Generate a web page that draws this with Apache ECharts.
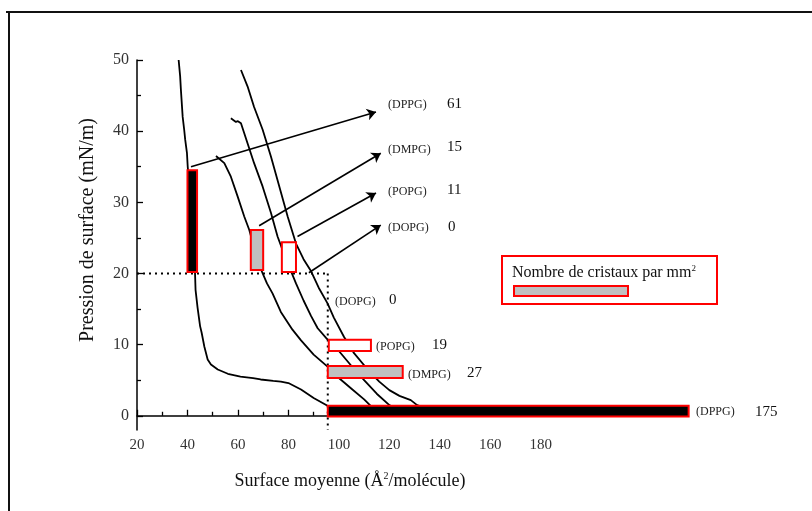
<!DOCTYPE html>
<html><head><meta charset="utf-8">
<script src="https://cdn.jsdelivr.net/npm/echarts@6/dist/echarts.min.js"></script>
<style>html,body{margin:0;padding:0;background:#fff}#c{width:812px;height:511px}</style>
</head><body><div id="c"></div>
<script>
// ---- data ----
const xTickLabels = [20, 40, 60, 80, 100, 120, 140, 160, 180];
const xMinorTicks = [30, 50, 70, 90, 110, 130, 150, 170, 190];
const yTickLabels = [0, 10, 20, 30, 40, 50];
const yMinorTicks = [5, 15, 25, 35, 45];
const xTitle = 'Surface moyenne (Å{s|2}/molécule)';
const yTitle = 'Pression de surface (mN/m)';
const legendTitle = 'Nombre de cristaux par mm{s|2}';

const curveDPPG = [[36.5,50],[37.1,47.7],[37.4,45.8],[38.1,42],[38.7,40.2],[39.1,38.8],[39.8,36.9],[40.1,35],[41,31],[42,26],[42.8,21],[43,20],[43.2,17.7],[44,15.2],[45,12.6],[45.6,11.7],[46.7,9.7],[48,7.9],[49.3,7.2],[52,6.5],[56,5.9],[61,5.5],[66,5.3],[69,5.1],[74,4.9],[77,4.8],[80,4.6],[85,3.7],[90,2.5],[95.5,1.4],[97,1.1]];
const curveDMPG = [[51.3,36.5],[54.6,35.5],[57.2,33.6],[59.9,30.8],[62.5,28],[64.5,26.1],[66.5,23.5],[68,21.6],[69.8,20],[71.5,18.6],[73.7,17.2],[77,14.6],[81.6,12.1],[85,10.6],[90,8.6],[95.5,6.9],[100,5.3],[105,3.8],[110,2.3],[112.6,1.4],[114,1.1]];
const curvePOPG = [[57.2,41.8],[58,41.6],[58.6,41.8],[59.2,41.3],[60,41.4],[61.2,41.1],[62.5,39.7],[63.8,38.3],[66.4,35.5],[69.8,32.2],[73.1,28.5],[75.7,25.2],[78,23],[80,21.2],[83,18.6],[86,16.2],[89,14],[91.6,12.3],[95,10.9],[100,9.1],[105,7],[110,5],[115,3.1],[120,1.5],[122,1.1]];
const curveDOPG = [[61.2,48.6],[63.8,46.3],[66.4,43.4],[69.8,40.2],[73.1,36.4],[75.7,33.1],[79.7,28],[83,24.2],[86,22],[89,20.3],[92,18],[95.5,15.8],[98,13.8],[102,11.1],[106,8.8],[111.4,6.5],[116,4.8],[120,3.6],[124,2.8],[128.5,2.2],[131,1.5],[134,1.1]];

const refLineH = [[20,20],[95.6,20]];
const refLineV = [[95.6,20],[95.6,-2]];

// vertical bars (at 20 mN/m onward)
const vLipids = ['DPPG', 'DMPG', 'POPG'];
const vCounts = [61, 15, 11];
const vX = [[40, 43.8], [65.1, 70], [77.4, 83]];
const vY = [[20.2, 34.5], [20.5, 26.1], [20.2, 24.4]];

// horizontal bars (near 0 mN/m)
const hLipids = ['DPPG', 'DMPG', 'POPG'];
const hCounts = [175, 27, 19];
const hX = [[95.6, 238.6], [95.6, 125.3], [96, 112.7]];
const hY = [[-0.1, 1.4], [5.3, 7], [9.1, 10.7]];

// arrows from bars to the count labels
const arrowFrom = [[41.4, 35], [68.4, 26.7], [83.6, 25.2], [88.1, 20.1]];
const arrowTo = [[114.7, 42.7], [116.6, 36.9], [114.7, 31.3], [116.6, 26.8]];
const arrowLipids = ['DPPG', 'DMPG', 'POPG', 'DOPG'];
const arrowCounts = [61, 15, 11, 0];

const fillOf = {DPPG: '#000000', DMPG: '#c0c0c0', POPG: '#ffffff', DOPG: '#ffffff'};
const FONT = 'Liberation Serif';

const chart = echarts.init(document.getElementById('c'));

function rectSeries(xs, ys, lipids) {
  return {
    type: 'custom',
    clip: false,
    z: 5,
    data: xs.map((x, i) => [x[0], x[1], ys[i][0], ys[i][1], i]),
    renderItem: function (params, api) {
      const p1 = api.coord([api.value(0), api.value(3)]);
      const p2 = api.coord([api.value(1), api.value(2)]);
      return {
        type: 'rect',
        shape: {x: p1[0], y: p1[1], width: p2[0] - p1[0], height: p2[1] - p1[1]},
        style: {fill: fillOf[lipids[api.value(4)]], stroke: '#ff0000', lineWidth: 2}
      };
    }
  };
}

const lineStyleCurve = {color: '#000', width: 1.8};
function curve(d) {
  return {type: 'line', data: d, showSymbol: false, symbol: 'none', lineStyle: lineStyleCurve, z: 3, clip: false, animation: false};
}

const textStyleSmall = {fontFamily: FONT, fontSize: 12, fill: '#222'};
const textStyleNum = {fontFamily: FONT, fontSize: 15, fill: '#111'};
const labelPos = [
  [388, 105, 447, 104], [388, 150, 447, 147], [388, 192, 447, 190], [388, 228, 448, 227]
];
const graphics = [];
labelPos.forEach((p, i) => {
  graphics.push({type: 'text', x: p[0], y: p[1], style: Object.assign({text: '(' + arrowLipids[i] + ')', verticalAlign: 'middle'}, textStyleSmall), z: 20});
  graphics.push({type: 'text', x: p[2], y: p[3], style: Object.assign({text: String(arrowCounts[i]), verticalAlign: 'middle'}, textStyleNum), z: 20});
});
const lowLabels = [['DOPG', 0, 335, 302, 389, 300], ['POPG', hCounts[2], 376, 347, 432, 345], ['DMPG', hCounts[1], 408, 375, 467, 373], ['DPPG', hCounts[0], 696, 412, 755, 412]];
lowLabels.forEach(l => {
  graphics.push({type: 'text', x: l[2], y: l[3], style: Object.assign({text: '(' + l[0] + ')', verticalAlign: 'middle'}, textStyleSmall), z: 20});
  graphics.push({type: 'text', x: l[4], y: l[5], style: Object.assign({text: String(l[1]), verticalAlign: 'middle'}, textStyleNum), z: 20});
});
// legend box
graphics.push({type: 'rect', shape: {x: 502, y: 256, width: 215, height: 48}, style: {fill: '#fff', stroke: '#ff0000', lineWidth: 2}, z: 10});
graphics.push({type: 'rect', shape: {x: 514, y: 286, width: 114, height: 10}, style: {fill: '#c0c0c0', stroke: '#ff0000', lineWidth: 2}, z: 11});
graphics.push({type: 'text', x: 512, y: 273, style: {text: legendTitle, rich: {s: {fontSize: 9, verticalAlign: 'top', padding: [0,0,9,0], fontFamily: FONT}}, fontFamily: FONT, fontSize: 16, fill: '#111', verticalAlign: 'middle'}, z: 12});
// axis titles
graphics.push({type: 'text', x: 350, y: 481, style: {text: xTitle, rich: {s: {fontFamily: FONT, fontSize: 10, verticalAlign: 'top', padding: [0,0,10,0]}}, fontFamily: FONT, fontSize: 18, fill: '#111', align: 'center', verticalAlign: 'middle'}, z: 12});
graphics.push({type: 'text', x: 88, y: 230, rotation: Math.PI / 2, style: {text: yTitle, fontFamily: FONT, fontSize: 20, fill: '#111', align: 'center', verticalAlign: 'middle'}, z: 12});
// outer frame (top & left edges)
graphics.push({type: 'line', shape: {x1: 6, y1: 12, x2: 812, y2: 12}, style: {stroke: '#111', lineWidth: 2}, z: 1});
graphics.push({type: 'line', shape: {x1: 9, y1: 12, x2: 9, y2: 511}, style: {stroke: '#111', lineWidth: 2}, z: 1});

const option = {
  animation: false,
  backgroundColor: '#fff',
  grid: {left: 137, right: 246, top: 60, bottom: 81, containLabel: false},
  xAxis: [{
    type: 'value', min: 20, max: 190,
    axisLine: {lineStyle: {color: '#000', width: 1.5}},
    axisTick: {inside: true, length: 6, lineStyle: {color: '#000', width: 1.3}, customValues: xTickLabels},
    axisLabel: {fontFamily: FONT, fontSize: 15, color: '#333', margin: 8, customValues: xTickLabels},
    splitLine: {show: false}
  }, {
    type: 'value', min: 20, max: 190, position: 'bottom', gridIndex: 0,
    axisLine: {show: false},
    axisTick: {inside: true, length: 4, lineStyle: {color: '#000', width: 1.3}, customValues: xMinorTicks},
    axisLabel: {show: false, customValues: xMinorTicks},
    splitLine: {show: false}
  }],
  yAxis: [{
    type: 'value', min: -2, max: 50,
    axisLine: {show: true, lineStyle: {color: '#000', width: 1.5}},
    axisTick: {show: true, inside: true, length: 6, lineStyle: {color: '#000', width: 1.3}, customValues: yTickLabels},
    axisLabel: {fontFamily: FONT, fontSize: 16, color: '#333', margin: 8, customValues: yTickLabels},
    splitLine: {show: false}
  }, {
    type: 'value', min: -2, max: 50, position: 'left', gridIndex: 0,
    axisLine: {show: false},
    axisTick: {show: true, inside: true, length: 4, lineStyle: {color: '#000', width: 1.3}, customValues: yMinorTicks},
    axisLabel: {show: false, customValues: yMinorTicks},
    splitLine: {show: false}
  }],
  series: [
    curve(curveDPPG), curve(curveDMPG), curve(curvePOPG), curve(curveDOPG),
    {type: 'line', data: refLineH, showSymbol: false, symbol: 'none', lineStyle: {color: '#000', width: 2, type: [2, 4]}, z: 2},
    {type: 'line', data: refLineV, showSymbol: false, symbol: 'none', lineStyle: {color: '#000', width: 2, type: [2, 4]}, z: 2, clip: false},
    rectSeries(vX, vY, vLipids),
    rectSeries(hX, hY, hLipids),
    {
      type: 'lines', coordinateSystem: 'cartesian2d', z: 6,
      symbol: ['none', 'arrow'], symbolSize: [0, 9],
      lineStyle: {color: '#000', width: 1.6, opacity: 1},
      data: arrowFrom.map((f, i) => ({coords: [f, arrowTo[i]]}))
    }
  ],
  graphic: graphics
};
chart.setOption(option);
</script>
</body></html>
